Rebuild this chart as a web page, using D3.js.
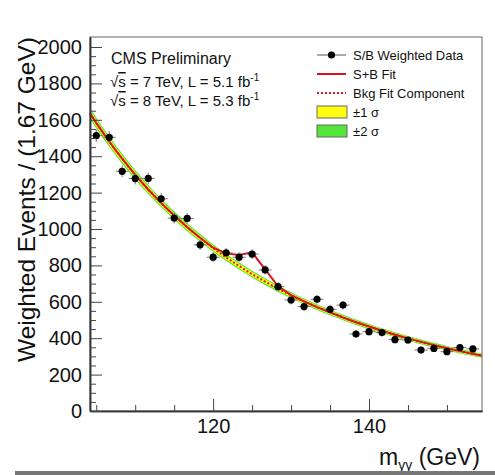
<!DOCTYPE html>
<meta charset="utf-8">
<style>

body {
  margin: 0;
  background: #fff;
}

text {
  font-family: "Liberation Sans", Arial, Helvetica, sans-serif;
  fill: #111;
}

.axis text {
  font-size: 20px;
}

</style>
<body>
    <div class='canvas'></div>
</body>
<script src="https://d3js.org/d3.v7.min.js"></script>
<script>

// data points (bin centres, S/B weighted events, errors)
var massBins = [105, 106.67, 108.33, 110, 111.67, 113.33, 115, 116.67, 118.33, 120,
    121.67, 123.33, 125, 126.67, 128.33, 130, 131.67, 133.33, 135, 136.67,
    138.33, 140, 141.67, 143.33, 145, 146.67, 148.33, 150, 151.67, 153.33];
var weightedEvents = [1513, 1504, 1317, 1277, 1278, 1166, 1060, 1058, 913, 845,
    869, 845, 862, 775, 683, 610, 574, 614, 559, 582,
    423, 436, 431, 392, 390, 335, 344, 326, 349, 341];
var eventErrors = [34, 34, 32, 32, 32, 31, 30, 30, 28, 27,
    27, 27, 27, 26, 25, 24, 24, 24, 23, 23,
    21, 21, 21, 20, 20, 19, 19, 19, 19, 19];

// fits
var fitMass = [104.2, 105, 106.67, 108.33, 110, 111.67, 113.33, 115, 116.67, 118.33,
    120, 121.67, 123.33, 125, 126.67, 128.33, 130, 131.67, 133.33, 135,
    136.67, 138.33, 140, 141.67, 143.33, 145, 146.67, 148.33, 150, 151.67,
    153.33, 154.5];
var bkgFit = [1636, 1583, 1480, 1386, 1298, 1217, 1143, 1074, 1010, 951,
    895, 844, 797, 752, 711, 672, 636, 602, 571, 542,
    514, 488, 464, 441, 419, 399, 380, 362, 345, 329,
    314, 304];
var sbFit = [1636, 1583, 1480, 1386, 1298, 1217, 1143, 1074, 1010, 952,
    897, 866, 857, 872, 778, 685, 637, 602, 571, 542,
    514, 488, 464, 441, 419, 399, 380, 362, 345, 329,
    314, 304];
var sigma1 = [19, 18.5, 18, 17, 16.5, 16, 15, 14.5, 14, 13,
    12.5, 12, 12, 11.5, 11, 11, 10.5, 10.5, 10, 10,
    9.5, 9.5, 9, 9, 8.5, 8.5, 8, 8, 8, 7.5,
    7.5, 7.5];
var sigma2 = [30, 29, 28, 27, 26, 25, 24, 23, 22, 21,
    20, 19.5, 19, 18.5, 18, 17.5, 17, 16.5, 16, 15.5,
    15, 15, 14.5, 14, 14, 13.5, 13, 13, 12.5, 12.5,
    12, 12];

var xTicksMajor = [120, 140],
    xTicksMinor = [105, 110, 115, 125, 130, 135, 145, 150],
    yTicksMajor = [0, 200, 400, 600, 800, 1000, 1200, 1400, 1600, 1800, 2000];

var w = 495,
    h = 475,
    pLeft = 90,
    pRight = 482,
    pTop = 37,
    pBottom = 411;

var svg = d3.select(".canvas").append("svg")
    .attr("width", w)
    .attr("height", h);

var x = d3.scaleLinear().domain([104.2, 154.5]).range([pLeft, pRight]);
var y = d3.scaleLinear().domain([0, 2055]).range([pBottom, pTop]);

var plot = svg.append("g");

var fit = fitMass.map(function(m, i) {
  return {m: m, b: bkgFit[i], sb: sbFit[i], s1: sigma1[i], s2: sigma2[i]};
});

// bands
plot.append("path")
    .datum(fit)
    .attr("fill", "#55e63a")
    .attr("d", d3.area()
      .x(function(d) { return x(d.m); })
      .y0(function(d) { return y(d.b - d.s2); })
      .y1(function(d) { return y(d.b + d.s2); })
      .curve(d3.curveMonotoneX));

plot.append("path")
    .datum(fit)
    .attr("fill", "#ffff10")
    .attr("d", d3.area()
      .x(function(d) { return x(d.m); })
      .y0(function(d) { return y(d.b - d.s1); })
      .y1(function(d) { return y(d.b + d.s1); })
      .curve(d3.curveMonotoneX));

plot.append("path")
    .datum(fit)
    .attr("fill", "none")
    .attr("stroke", "#e3161e")
    .attr("stroke-width", 2)
    .attr("stroke-dasharray", "2,2")
    .attr("d", d3.line()
      .x(function(d) { return x(d.m); })
      .y(function(d) { return y(d.b); })
      .curve(d3.curveMonotoneX));

plot.append("path")
    .datum(fit)
    .attr("fill", "none")
    .attr("stroke", "#d8141c")
    .attr("stroke-width", 2)
    .attr("d", d3.line()
      .x(function(d) { return x(d.m); })
      .y(function(d) { return y(d.sb); }));

// data
var pts = massBins.map(function(m, i) {
  return {m: m, v: weightedEvents[i], e: eventErrors[i]};
});

var pg = plot.selectAll(".pt")
    .data(pts)
  .enter().append("g")
    .attr("class", "pt");

pg.append("line")
    .attr("x1", function(d) { return x(d.m - 0.833); })
    .attr("x2", function(d) { return x(d.m + 0.833); })
    .attr("y1", function(d) { return y(d.v); })
    .attr("y2", function(d) { return y(d.v); })
    .attr("stroke", "#777")
    .attr("stroke-width", 1);

pg.append("line")
    .attr("x1", function(d) { return x(d.m); })
    .attr("x2", function(d) { return x(d.m); })
    .attr("y1", function(d) { return y(d.v - d.e); })
    .attr("y2", function(d) { return y(d.v + d.e); })
    .attr("stroke", "#777")
    .attr("stroke-width", 1);

pg.append("circle")
    .attr("cx", function(d) { return x(d.m); })
    .attr("cy", function(d) { return y(d.v); })
    .attr("r", 3.6)
    .attr("fill", "#000");

// frame
svg.append("rect")
    .attr("x", pLeft)
    .attr("y", pTop)
    .attr("width", pRight - pLeft)
    .attr("height", pBottom - pTop)
    .attr("fill", "none")
    .attr("stroke", "#666")
    .attr("stroke-width", 1);

// axes
svg.append("g")
    .attr("class", "axis")
    .attr("transform", "translate(0," + pBottom + ")")
    .call(d3.axisBottom(x).tickValues(xTicksMajor).tickSize(-12).tickSizeOuter(0).tickPadding(8).tickFormat(d3.format("d")));

svg.append("g")
    .attr("class", "axis minor")
    .attr("transform", "translate(0," + pBottom + ")")
    .call(d3.axisBottom(x).tickValues(xTicksMinor).tickSize(-6).tickSizeOuter(0).tickFormat(""));

svg.append("g")
    .attr("class", "axis")
    .attr("transform", "translate(" + pLeft + ",0)")
    .call(d3.axisLeft(y).tickValues(yTicksMajor).tickSize(-12).tickSizeOuter(0).tickPadding(8).tickFormat(d3.format("d")));

svg.append("g")
    .attr("class", "axis minor")
    .attr("transform", "translate(" + pLeft + ",0)")
    .call(d3.axisLeft(y).tickValues(d3.range(0, 2050, 50).filter(function(v) { return v % 200 !== 0; }))
      .tickSize(-6).tickSizeOuter(0).tickFormat(""));

svg.selectAll(".axis .domain").attr("stroke", "#333").attr("stroke-width", 1.5);
svg.selectAll(".axis .tick line").attr("stroke", "#444");

// titles
svg.append("text")
    .attr("transform", "translate(35," + pTop + ") rotate(-90)")
    .attr("text-anchor", "end")
    .style("font-size", "24.5px")
    .text("Weighted Events / (1.67 GeV)");

var xt = svg.append("text")
    .attr("x", 480)
    .attr("y", 465)
    .attr("text-anchor", "end")
    .style("font-size", "23px");
xt.append("tspan").text("m");
xt.append("tspan").attr("dy", 5).style("font-size", "14px").text("γγ");
xt.append("tspan").attr("dy", -5).text(" (GeV)");

// labels
svg.append("text")
    .attr("x", 111)
    .attr("y", 64)
    .style("font-size", "16px")
    .text("CMS Preliminary");

function lumiLine(yy, e, l) {
  var t = svg.append("text")
      .attr("x", 110)
      .attr("y", yy)
      .style("font-size", "15px");
  t.append("tspan").text("√");
  t.append("tspan").style("text-decoration", "overline").text("s");
  t.append("tspan").text(" = " + e + " TeV, L = " + l + " fb");
  t.append("tspan").attr("dy", -6).style("font-size", "10px").text("-1");
}
lumiLine(87, 7, "5.1");
lumiLine(106, 8, "5.3");

// legend
var lg = svg.append("g").attr("transform", "translate(317,0)");
var rows = [55, 74, 93, 112, 131];
var labels = ["S/B Weighted Data", "S+B Fit", "Bkg Fit Component", "±1 σ", "±2 σ"];

lg.append("line").attr("x1", 0).attr("x2", 29).attr("y1", rows[0]).attr("y2", rows[0])
    .attr("stroke", "#555").attr("stroke-width", 1);
lg.append("circle").attr("cx", 14.5).attr("cy", rows[0]).attr("r", 3.6).attr("fill", "#000");
lg.append("line").attr("x1", 0).attr("x2", 29).attr("y1", rows[1]).attr("y2", rows[1])
    .attr("stroke", "#d8141c").attr("stroke-width", 2);
lg.append("line").attr("x1", 0).attr("x2", 29).attr("y1", rows[2]).attr("y2", rows[2])
    .attr("stroke", "#e3161e").attr("stroke-width", 2).attr("stroke-dasharray", "2,2");
lg.append("rect").attr("x", 0).attr("y", rows[3] - 6).attr("width", 30).attr("height", 12)
    .attr("fill", "#ffff10").attr("stroke", "#666");
lg.append("rect").attr("x", 0).attr("y", rows[4] - 6).attr("width", 30).attr("height", 12)
    .attr("fill", "#55e63a").attr("stroke", "#666");

lg.selectAll(".lt")
    .data(labels)
  .enter().append("text")
    .attr("x", 36)
    .attr("y", function(d, i) { return rows[i] + 4.5; })
    .style("font-size", "13px")
    .text(function(d) { return d; });

// bottom edge of the screenshot
svg.append("rect")
    .attr("x", 15)
    .attr("y", 471)
    .attr("width", w - 15)
    .attr("height", 4)
    .attr("fill", "#777");

</script>
